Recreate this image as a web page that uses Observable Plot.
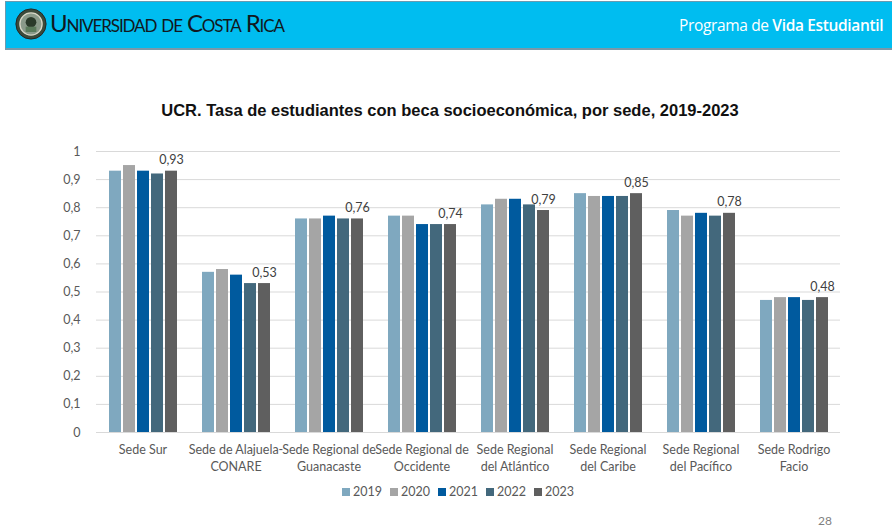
<!DOCTYPE html>
<html>
<head>
<meta charset="utf-8">
<script src="https://cdn.jsdelivr.net/npm/d3@7"></script>
<script src="https://cdn.jsdelivr.net/npm/@observablehq/plot@0.6"></script>
<style>
  html, body { margin: 0; padding: 0; background: #fff; }
  #page { position: relative; width: 892px; height: 529px; overflow: hidden; background: #fff; }
  #header { position: absolute; left: 5px; top: 1px; width: 890px; height: 46px; background: #00bdf0; border-top: 1px solid #6a9ab0; border-left: 1px solid #6a9ab0; border-bottom: 2px solid #7a98a8; }
  #logo { position: absolute; left: 9px; top: 6px; }
  #uni { position: absolute; left: 44px; top: 6px; font-family: "Lato", sans-serif; font-size: 24px; color: #111820; font-variant: small-caps; letter-spacing: -1.1px; }
  #prog { position: absolute; left: 673px; top: 12px; font-family: "Open Sans", sans-serif; font-size: 15.5px; color: #fff; letter-spacing: -0.35px; }
  #prog b { font-weight: 600; }
  #title { position: absolute; left: 0; top: 101px; width: 900px; text-align: center; font-family: "Liberation Sans", Arial, sans-serif; font-weight: bold; font-size: 16.5px; color: #111; }
  #chart { position: absolute; left: 0; top: 140px; }
  #legend { position: absolute; left: 0; top: 484px; width: 916px; text-align: center; font-family: "Lato", sans-serif; font-size: 12.5px; color: #595959; line-height: 16px; }
  #legend span.item { display: inline-block; margin: 0 4px; }
  #legend span.sw { display: inline-block; width: 8px; height: 8px; margin-right: 3px; vertical-align: 0px; }
  #pagenum { position: absolute; left: 818px; top: 513px; font-family: "Lato", sans-serif; font-size: 12px; color: #7f7f7f; }
</style>
</head>
<body>
<div id="page">
  <div id="header">
    <svg id="logo" width="32" height="32" viewBox="0 0 36 36">
      <circle cx="18" cy="18" r="17" fill="#3b4a3a" stroke="#222" stroke-width="1"/>
      <circle cx="18" cy="18" r="12.5" fill="#8a9a8a" stroke="#d8d8c8" stroke-width="1.5"/>
      <circle cx="18" cy="16" r="6" fill="#2a3a2a"/>
      <rect x="12" y="21" width="12" height="6" fill="#5a7a5a"/>
    </svg>
    <div id="uni">Universidad de Costa Rica</div>
    <div id="prog">Programa de <b>Vida Estudiantil</b></div>
  </div>
  <div id="title">UCR. Tasa de estudiantes con beca socioeconómica, por sede, 2019-2023</div>
  <div id="chart"></div>
  <div id="legend"></div>
  <div id="pagenum">28</div>
</div>
<script>
const sedes = [
  "Sede Sur",
  "Sede de Alajuela-CONARE",
  "Sede Regional de Guanacaste",
  "Sede Regional de Occidente",
  "Sede Regional del Atlántico",
  "Sede Regional del Caribe",
  "Sede Regional del Pacífico",
  "Sede Rodrigo Facio"
];
const sedeLabels = [
  "Sede Sur",
  "Sede de Alajuela-\nCONARE",
  "Sede Regional de\nGuanacaste",
  "Sede Regional de\nOccidente",
  "Sede Regional\ndel Atlántico",
  "Sede Regional\ndel Caribe",
  "Sede Regional\ndel Pacífico",
  "Sede Rodrigo\nFacio"
];
const years = ["2019", "2020", "2021", "2022", "2023"];
const yearColors = ["#7fa8bf", "#a5a5a5", "#005a9e", "#43687c", "#5f5f5f"];

const v2019 = [0.93, 0.57, 0.76, 0.77, 0.81, 0.85, 0.79, 0.47];
const v2020 = [0.95, 0.58, 0.76, 0.77, 0.83, 0.84, 0.77, 0.48];
const v2021 = [0.93, 0.56, 0.77, 0.74, 0.83, 0.84, 0.78, 0.48];
const v2022 = [0.92, 0.53, 0.76, 0.74, 0.81, 0.84, 0.77, 0.47];
const v2023 = [0.93, 0.53, 0.76, 0.74, 0.79, 0.85, 0.78, 0.48];
const yTicks = [0, 0.1, 0.2, 0.3, 0.4, 0.5, 0.6, 0.7, 0.8, 0.9, 1];

const series = [v2019, v2020, v2021, v2022, v2023];
const data = [];
sedes.forEach((s, i) => years.forEach((y, j) => data.push({sede: s, year: y, value: series[j][i]})));

const comma = d => String(d).replace(".", ",");
const labelOf = d => sedeLabels[sedes.indexOf(d)];
const font = "Lato, sans-serif";

const chart = Plot.plot({
  width: 892,
  height: 342,
  marginTop: 11,
  marginBottom: 50,
  marginLeft: 96,
  marginRight: 52,
  style: {fontFamily: font, fontSize: "12.5px", color: "#595959", background: "transparent"},
  fx: {domain: sedes, padding: 0, label: null},
  x: {domain: years, paddingInner: 0.16, paddingOuter: 0.88, axis: null},
  y: {domain: [0, 1], label: null},
  color: {domain: years, range: yearColors},
  marks: [
    Plot.gridY(yTicks, {stroke: "#d9d9d9", strokeOpacity: 1, strokeWidth: 1}),
    Plot.axisY(yTicks, {tickSize: 0, tickPadding: 16, tickFormat: comma, fill: "#595959", fontSize: 12.5}),
    Plot.barY(data, {fx: "sede", x: "year", y: "value", fill: "year"}),
    Plot.text(data.filter(d => d.year === "2023"), {
      fx: "sede", x: "year", y: "value", text: d => comma(d.value),
      dy: -7, lineAnchor: "bottom", fill: "#404040", fontSize: 12.5
    }),
    Plot.axisFx({anchor: "bottom", tickSize: 0, tickPadding: 10, tickFormat: labelOf, fill: "#595959", fontSize: 12.5, lineHeight: 1.35, label: null})
  ]
});
document.getElementById("chart").appendChild(chart);

const color = chart.scale("color");
const legend = document.getElementById("legend");
years.forEach(y => {
  const item = document.createElement("span");
  item.className = "item";
  const sw = document.createElement("span");
  sw.className = "sw";
  sw.style.background = color.apply(y);
  item.appendChild(sw);
  item.appendChild(document.createTextNode(y));
  legend.appendChild(item);
});
</script>
</body>
</html>
